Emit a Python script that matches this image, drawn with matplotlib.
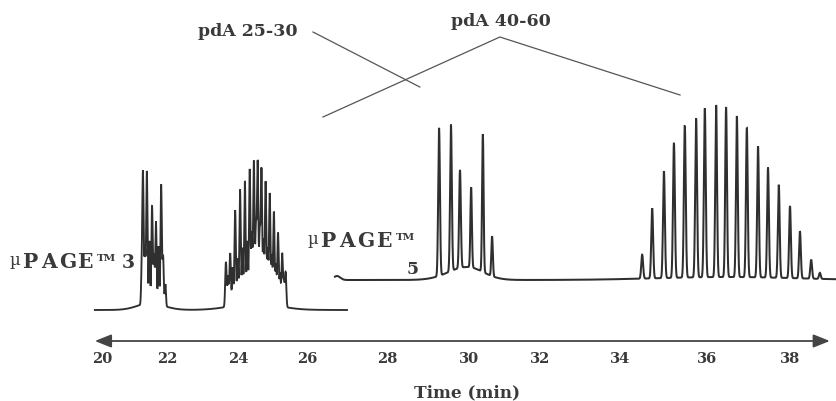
import numpy as np
import matplotlib
matplotlib.use("Agg")
import matplotlib.pyplot as plt
from matplotlib.patches import FancyArrowPatch

# Time scale: tick values and their printed positions along the axis (nonuniform scale)
tick_times = [20, 22, 24, 26, 28, 30, 32, 34, 36, 38]
tick_pos = [102, 167, 238, 307, 387, 469, 540, 620, 707, 790]
tick_labels = [str(t) for t in tick_times]

# uPAGE 3 run -- pdA 25-30 cluster (major peaks + unresolved shoulders)
p3_a_times = [21.26, 21.38, 21.54, 21.66, 21.82, 21.88]
p3_a_heights = [131, 132, 97, 82, 120, 49]
p3_a_minor_times = [21.22, 21.32, 21.46, 21.60, 21.74, 21.95]
p3_a_minor_heights = [30, 55, 62, 48, 58, 22]
# uPAGE 3 run -- pdA 40-60 cluster
p3_b_times = [23.66, 23.78, 23.92, 24.06, 24.20, 24.34, 24.46, 24.57,
              24.68, 24.80, 24.92, 25.04, 25.16, 25.28, 25.38]
p3_b_heights = [45, 53, 95, 115, 122, 134, 142, 141,
                134, 122, 111, 93, 73, 53, 35]
p3_b_minor_times = [23.72, 23.85, 23.99, 24.13, 24.27, 24.40, 24.52, 24.63,
                    24.74, 24.86, 24.98, 25.10, 25.22, 25.33]
p3_b_minor_heights = [30, 38, 46, 55, 62, 68, 75, 70,
                      62, 54, 48, 40, 32, 24]
# broad background under the uPAGE 3 trace
p3_hump_times = [21.5, 24.5]
p3_hump_heights = [7, 7]
p3_hump_widths = [0.40, 0.65]
p3_span = [19.78, 27.0]

# uPAGE 5 run -- pdA 25-30 cluster
p5_a_times = [29.27, 29.56, 29.78, 30.06, 30.39, 30.65]
p5_a_heights = [148, 146, 98, 80, 138, 40]
# uPAGE 5 run -- pdA 40-60 cluster
p5_b_times = [34.51, 34.74, 35.01, 35.24, 35.49, 35.75, 35.95, 36.22, 36.46,
              36.72, 36.96, 37.23, 37.47, 37.73, 38.00, 38.24, 38.51, 38.72]
p5_b_heights = [24, 70, 107, 135, 152, 159, 169, 172, 170,
                161, 149, 131, 110, 93, 72, 47, 19, 6]
p5_hump_times = [26.75, 29.95, 36.5]
p5_hump_heights = [4, 13, 3]
p5_hump_widths = [0.08, 0.45, 1.6]
p5_span = [26.70, 39.13]

# vertical placement of the two traces (baseline levels)
p3_base = 91
p5_base = 121

INK = "#2f2f2f"
TEXT = "#3a3a3a"
FONT = "DejaVu Serif"

_ext_t = [0] + tick_times + [60]
_ext_p = ([tick_pos[0] - 20 * (tick_pos[1] - tick_pos[0]) / 2] + tick_pos
          + [tick_pos[-1] + 22 * (tick_pos[-1] - tick_pos[-2]) / 2])


def to_pos(t):
    return np.interp(np.asarray(t, float), _ext_t, _ext_p)


def to_time(p):
    return np.interp(np.asarray(p, float), _ext_p, _ext_t)


def peaks(t, times, heights, width):
    y = np.zeros_like(t)
    for c, h in zip(times, heights):
        y += h * np.exp(-0.5 * ((t - c) / width) ** 2)
    return y


def humps(t, times, heights, widths):
    y = np.zeros_like(t)
    for c, h, w in zip(times, heights, widths):
        y += h * np.exp(-0.5 * ((t - c) / w) ** 2)
    return y


fig = plt.figure(figsize=(8.37, 4.02), dpi=100)
ax = fig.add_axes([0, 0, 1, 1])
ax.set_xscale("function", functions=(to_pos, to_time))
ax.set_xlim(float(to_time(0)), float(to_time(837)))
ax.set_ylim(0, 402)

# uPAGE 3 trace
t3 = np.linspace(p3_span[0], p3_span[1], 6000)
y3 = (p3_base
      + peaks(t3, p3_a_times, p3_a_heights, 0.02)
      + peaks(t3, p3_a_minor_times, p3_a_minor_heights, 0.018)
      + peaks(t3, p3_b_times, p3_b_heights, 0.02)
      + peaks(t3, p3_b_minor_times, p3_b_minor_heights, 0.018)
      + humps(t3, p3_hump_times, p3_hump_heights, p3_hump_widths))
ax.plot(t3, y3, color=INK, lw=1.35, solid_joinstyle="miter")

# uPAGE 5 trace
t5 = np.linspace(p5_span[0], p5_span[1], 8000)
y5 = (p5_base
      + peaks(t5, p5_a_times, p5_a_heights, 0.021)
      + peaks(t5, p5_b_times, p5_b_heights, 0.021)
      + humps(t5, p5_hump_times, p5_hump_heights, p5_hump_widths))
ax.plot(t5, y5, color=INK, lw=1.45, solid_joinstyle="miter")

# double-headed time arrow with the tick labels under it
axis_y = 60
arrow = FancyArrowPatch((19.78, axis_y), (38.96, axis_y),
                        arrowstyle="<|-|>,head_length=10,head_width=4",
                        mutation_scale=1, color="#444444", lw=1.3,
                        shrinkA=0, shrinkB=0)
ax.add_patch(arrow)

ax.spines[:].set_visible(False)
ax.spines["bottom"].set_position(("data", axis_y))
ax.set_xticks(tick_times, tick_labels)
ax.xaxis.set_minor_locator(matplotlib.ticker.NullLocator())
ax.tick_params(axis="x", length=0, pad=7, labelcolor=TEXT)
for lab in ax.get_xticklabels():
    lab.set_fontfamily(FONT)
    lab.set_fontweight("bold")
    lab.set_fontsize(10.5)
ax.set_yticks([])
ax.set_xlabel("Time (min)", fontfamily=FONT, fontweight="bold",
              fontsize=12.2, color=TEXT)
ax.xaxis.set_label_coords(467 / 837, 0.045)

# leader lines from the cluster names
lead_kw = dict(color="#555555", lw=0.9)
ax.plot([26.15, 28.80], [369, 314], **lead_kw)
ax.plot([26.40, 30.87, 35.38], [284, 364, 306], **lead_kw)

txt_kw = dict(fontfamily=FONT, fontweight="bold", color=TEXT)
ax.text(24.29, 371, "pdA 25-30", ha="center", va="center", fontsize=12.5, **txt_kw)
ax.text(30.90, 380, "pdA 40-60", ha="center", va="center", fontsize=12.5, **txt_kw)


def upage_label(x0, x1, base_y):
    """Draw a wide-set 'µPAGE™' between pixel columns x0 and x1."""
    ax.text(float(to_time(x0)), base_y + 3, "\u00b5", ha="left", va="baseline",
            fontfamily=FONT, fontsize=12, color=TEXT)
    left, right = x0 + 11, x1 - 19
    cell = (right - left) / 4
    for i, ch in enumerate("PAGE"):
        cx = left + cell * (i + 0.5)
        ax.text(float(to_time(cx)), base_y, ch, ha="center", va="baseline",
                fontsize=14.5, **txt_kw)
    ax.text(float(to_time(x1 - 17)), base_y + 14, "TM", ha="left", va="top",
            fontsize=7.5, **txt_kw)


upage_label(10, 114, 134)
ax.text(float(to_time(128)), 134, "3", ha="center", va="baseline", fontsize=13.5, **txt_kw)
upage_label(308, 413, 155)
ax.text(float(to_time(413)), 128, "5", ha="center", va="baseline", fontsize=12.5, **txt_kw)

fig.savefig("out.png", dpi=100)
